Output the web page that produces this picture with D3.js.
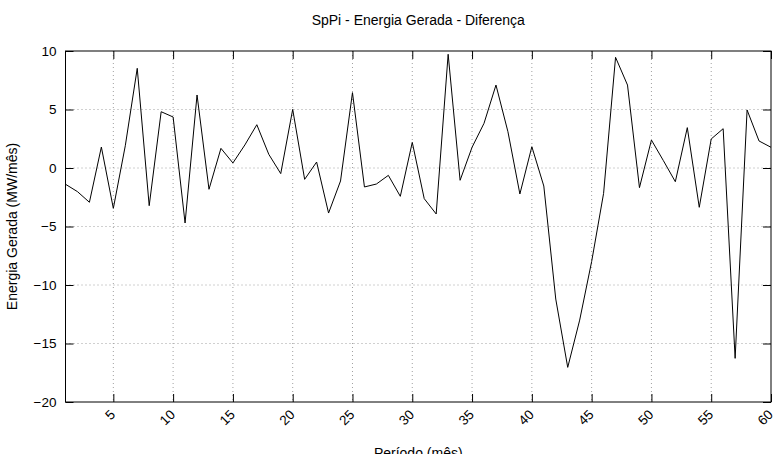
<!DOCTYPE html>
<html>
<head>
<meta charset="utf-8">
<script src="https://cdn.jsdelivr.net/npm/d3@7"></script>
<style>
  body { margin: 0; background: #fff; }
  svg { display: block; font-family: "Liberation Sans", Arial, sans-serif; }
</style>
</head>
<body>
<div id="chart"></div>
<script>
// monthly difference, periods 1..60
const periods = d3.range(1, 61);
const diff = [
  -1.39, -2.02, -2.93, 1.79, -3.45, 1.9, 8.52, -3.22, 4.81, 4.36,
  -4.70, 6.24, -1.82, 1.68, 0.43, 1.97, 3.70, 1.17, -0.48, 5.01,
  -0.97, 0.51, -3.85, -1.11, 6.44, -1.62, -1.37, -0.63, -2.42, 2.19,
  -2.62, -3.93, 9.72, -1.05, 1.77, 3.82, 7.09, 3.10, -2.22, 1.82,
  -1.54, -11.2, -17.04, -13.0, -8.0, -2.17, 9.46, 7.09, -1.68, 2.39,
  0.63, -1.17, 3.45, -3.36, 2.48, 3.36, -16.27, 4.96, 2.31, 1.77
];
const xTicks = [5, 10, 15, 20, 25, 30, 35, 40, 45, 50, 55, 60];
const yTicks = [-20, -15, -10, -5, 0, 5, 10];

const width = 775, height = 454;
const margin = { top: 51, right: 4, bottom: 52, left: 65.5 };
const innerW = width - margin.left - margin.right;
const innerH = height - margin.top - margin.bottom;

const x = d3.scaleLinear().domain([1, 60]).range([0, innerW]);
const y = d3.scaleLinear().domain([-20, 10]).range([innerH, 0]);

const svg = d3.select("#chart").append("svg")
  .attr("width", width)
  .attr("height", height);

const g = svg.append("g")
  .attr("transform", `translate(${margin.left},${margin.top})`);

// grid
g.append("g").selectAll("line")
  .data(xTicks.filter(t => t < 60))
  .join("line")
  .attr("x1", d => x(d)).attr("x2", d => x(d))
  .attr("y1", 0).attr("y2", innerH)
  .attr("stroke", "#a0a0a0")
  .attr("stroke-dasharray", "1,3");

g.append("g").selectAll("line")
  .data(yTicks.filter(t => t > -20 && t < 10))
  .join("line")
  .attr("x1", 0).attr("x2", innerW)
  .attr("y1", d => y(d)).attr("y2", d => y(d))
  .attr("stroke", "#a0a0a0")
  .attr("stroke-dasharray", "1,3");

// axes with inward ticks
const tickLen = 8;
const xAxis = g.append("g")
  .attr("transform", `translate(0,${innerH})`)
  .call(d3.axisBottom(x).tickValues(xTicks).tickSize(-tickLen).tickPadding(0).tickFormat(""));
g.append("g")
  .call(d3.axisTop(x).tickValues(xTicks).tickSize(-tickLen).tickFormat(""));
const yAxis = g.append("g")
  .call(d3.axisLeft(y).tickValues(yTicks).tickSize(-tickLen).tickPadding(9));
g.append("g")
  .attr("transform", `translate(${innerW},0)`)
  .call(d3.axisRight(y).tickValues(yTicks).tickSize(-tickLen).tickFormat(""));

g.selectAll(".domain").remove();
g.selectAll(".tick line").attr("stroke", "#000");

yAxis.selectAll("text")
  .attr("fill", "#000")
  .style("font-size", "13.5px")
  .style("font-family", "Liberation Sans, Arial, sans-serif");

// rotated x labels
xAxis.selectAll(".tick").append("text")
  .attr("fill", "#000")
  .attr("text-anchor", "end")
  .attr("transform", "translate(-1,10) rotate(-45)")
  .attr("dy", "0.35em")
  .style("font-size", "13.5px")
  .text(d => d);

// frame
g.append("rect")
  .attr("width", innerW).attr("height", innerH)
  .attr("fill", "none").attr("stroke", "#000").attr("stroke-width", 1);

// series
const line = d3.line()
  .x((d, i) => x(periods[i]))
  .y(d => y(d));

g.append("path")
  .datum(diff)
  .attr("fill", "none")
  .attr("stroke", "#000")
  .attr("stroke-width", 1)
  .attr("d", line);

// titles
svg.append("text")
  .attr("x", margin.left + innerW / 2).attr("y", 25)
  .attr("text-anchor", "middle")
  .style("font-size", "14px")
  .text("SpPi - Energia Gerada - Diferença");

svg.append("text")
  .attr("transform", `translate(17,${margin.top + innerH / 2}) rotate(-90)`)
  .attr("text-anchor", "middle")
  .style("font-size", "14px")
  .text("Energia Gerada (MW/mês)");

svg.append("text")
  .attr("x", margin.left + innerW / 2).attr("y", 458)
  .attr("text-anchor", "middle")
  .style("font-size", "14px")
  .text("Período (mês)");
</script>
</body>
</html>
